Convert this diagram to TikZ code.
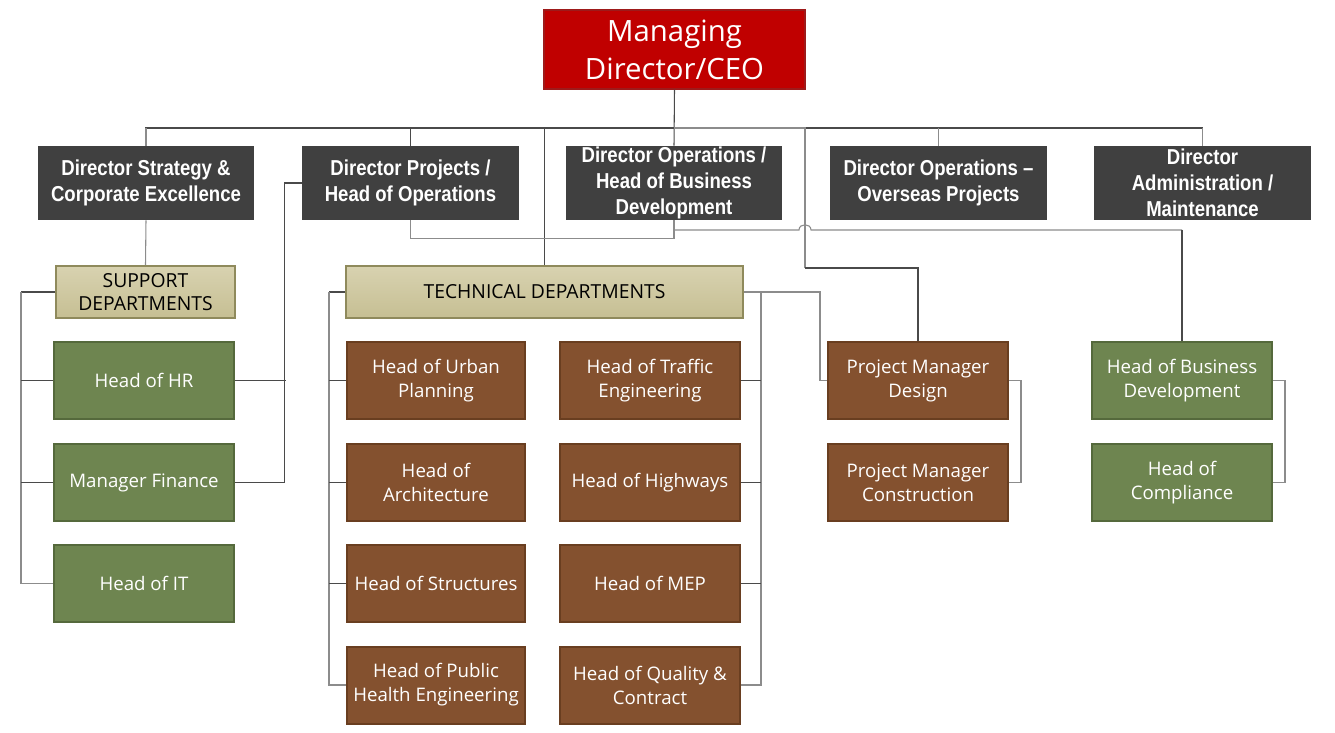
\documentclass[tikz,border=0pt]{standalone}
\usepackage{fontspec}
\setmainfont{Open Sans}
\newfontfamily\dirfont[FakeStretch=0.86]{Liberation Sans}
\definecolor{ceored}{HTML}{C00000}
\definecolor{ceoedge}{HTML}{9E1A1A}
\definecolor{dirgray}{HTML}{404040}
\definecolor{grn}{HTML}{6E8550}
\definecolor{grnedge}{HTML}{55693C}
\definecolor{brn}{HTML}{84512F}
\definecolor{brnedge}{HTML}{693E20}
\definecolor{tanA}{HTML}{D8D2B0}
\definecolor{tanB}{HTML}{C6BF93}
\definecolor{tanedge}{HTML}{8F8A5C}
\definecolor{linedark}{HTML}{4A4A4A}
\definecolor{linelight}{HTML}{8C8C8C}
\begin{document}
\begin{tikzpicture}[x=0.75pt,y=-0.75pt,
  sz/.style 2 args={minimum width=#1*0.75pt, minimum height=#2*0.75pt},
  basebox/.style={rectangle, inner sep=0pt, align=center},
  ceobox/.style={basebox, fill=ceored, draw=ceoedge, line width=0.8pt, text=white, font=\fontsize{22}{28.5}\selectfont},
  dirbox/.style={basebox, fill=dirgray, text=white, font=\dirfont\bfseries\fontsize{16.2}{19.5}\selectfont},
  tanbox/.style={basebox, top color=tanA, bottom color=tanB, draw=tanedge, line width=1.5pt, text=black, font=\fontsize{14.5}{17.5}\selectfont},
  grnbox/.style={basebox, fill=grn, draw=grnedge, line width=1.5pt, text=white, font=\fontsize{14}{18}\selectfont},
  brnbox/.style={basebox, fill=brn, draw=brnedge, line width=1.5pt, text=white, font=\fontsize{14}{18}\selectfont},
  conn/.style={draw=linedark, line width=0.8pt},
  connl/.style={draw=linelight, line width=0.8pt}
]
\useasboundingbox (0,0) rectangle (1335,732);

% CEO
\node[ceobox, sz={261}{79}] (ceo) at (674.5,49.5) {Managing\\Director/CEO};

% Directors
\node[dirbox, sz={216}{74}] (d1) at (146,183) {Director Strategy \&\\Corporate Excellence};
\node[dirbox, sz={217}{74}] (d2) at (410.5,183) {Director Projects /\\Head of Operations};
\node[dirbox, sz={216}{74}] (d3) at (674,183) {Director Operations /\\Head of Business\\Development};
\node[dirbox, sz={217}{74}] (d4) at (938.5,183) {Director Operations \textendash\\Overseas Projects};
\node[dirbox, sz={217}{74}] (d5) at (1202.5,183) {Director\\Administration /\\Maintenance};

% Department headers
\node[tanbox, sz={179}{52}] (sup) at (145.5,292) {SUPPORT\\DEPARTMENTS};
\node[tanbox, sz={397}{52}] (tech) at (544.5,292) {TECHNICAL DEPARTMENTS};

% Support departments
\node[grnbox, sz={180}{77}] (hr) at (144,380.5) {Head of HR};
\node[grnbox, sz={180}{77}] (fin) at (144,482.5) {Manager Finance};
\node[grnbox, sz={180}{77}] (it) at (144,583.5) {Head of IT};

% Technical departments
\node[brnbox, sz={178}{77}] (l1) at (436,380.5) {Head of Urban\\Planning};
\node[brnbox, sz={178}{77}] (l2) at (436,482.5) {Head of\\Architecture};
\node[brnbox, sz={178}{77}] (l3) at (436,583.5) {Head of Structures};
\node[brnbox, sz={178}{77}] (l4) at (436,685) {Head of Public\\Health Engineering};
\node[brnbox, sz={180}{77}] (r1) at (650,380.5) {Head of Traffic\\Engineering};
\node[brnbox, sz={180}{77}] (r2) at (650,482.5) {Head of Highways};
\node[brnbox, sz={180}{77}] (r3) at (650,583.5) {Head of MEP};
\node[brnbox, sz={180}{77}] (r4) at (650,685) {Head of Quality \&\\Contract};

% Project managers
\node[brnbox, sz={180}{77}] (pmd) at (918,380.5) {Project Manager\\Design};
\node[brnbox, sz={180}{77}] (pmc) at (918,482.5) {Project Manager\\Construction};

% Business development
\node[grnbox, sz={180}{77}] (hbd) at (1182,380.5) {Head of Business\\Development};
\node[grnbox, sz={180}{77}] (comp) at (1182,482.5) {Head of\\Compliance};

% Connectors: top bus
\coordinate (bus) at (674,128);
\draw[conn] (ceo.south) -- (d3.north);
\draw[conn] (bus) -| (d1.north);
\draw[connl] (d1.north) -- ++(0,-18);
\draw[conn] (bus) -| (d2.north);
\draw[conn] (bus) -| (tech.north);
\draw[conn] (bus) -| (d5.north);
\draw[connl] (bus -| d4.north) -- (d4.north);
\draw[connl] (d5.north) -- ++(0,-18);
\coordinate (j1) at (805,268);
\draw[connl] (bus) -| (j1);
\draw[conn] (j1) -| (pmd.north);

% Director projects / operations bottom links
\draw[connl] (d2.south) -- ++(0,18) -| (d3.south);
\coordinate (k) at (674,230);
\coordinate (kb) at (799,230);
\coordinate (ke) at (811,230);
\draw[connl] (k) -- (kb) .. controls (799,223) and (811,223) .. (ke) -- (ke -| hbd.north);
\draw[conn] (ke -| hbd.north) -- (hbd.north);

% Support departments
\draw[connl] (d1.south) -- (sup.north);
\draw[conn] (sup.west) -- ++(-34,0);
\draw[connl] (sup.west) ++(-34,0) |- (it.west);
\draw[conn] (hr.west) -- ++(-32,0);
\draw[conn] (fin.west) -- ++(-32,0);

% Director projects to HR / Finance
\draw[conn] (d2.west) -- ++(-17,0) |- (fin.east);
\draw[conn] (hr.east) -- ++(51,0);

% Technical departments left column
\draw[conn] (tech.west) -- ++(-16,0);
\draw[connl] (tech.west) ++(-16,0) |- (l4.west);
\draw[conn] (l1.west) -- ++(-17,0);
\draw[conn] (l2.west) -- ++(-17,0);
\draw[conn] (l3.west) -- ++(-17,0);
% right column
\draw[conn] (tech.east) -- ++(17,0);
\draw[connl] (r4.east) -- ++(20,0) |- (tech.east);
\draw[conn] (r1.east) -- ++(20,0);
\draw[conn] (r2.east) -- ++(20,0);
\draw[conn] (r3.east) -- ++(20,0);
% tech to PM design
\draw[connl] (tech.east) -- ++(76,0) |- (pmd.west);

% PM design / construction
\draw[connl] (pmd.east) -- ++(12,0) |- (pmc.east);
% Business development / compliance
\draw[connl] (hbd.east) -- ++(12,0) |- (comp.east);
\end{tikzpicture}
\end{document}
